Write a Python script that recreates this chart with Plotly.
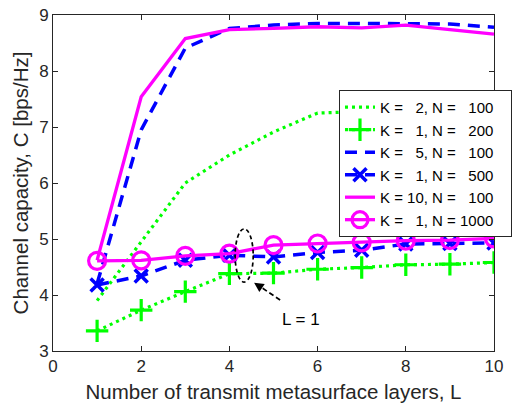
import plotly.graph_objects as go

L = [1, 2, 3, 4, 5, 6, 7, 8, 9, 10]

c_k2_n100 = [3.90, 4.95, 6.00, 6.50, 6.91, 7.25, 7.28, 7.30, 7.30, 7.30]
c_k1_n200 = [3.36, 3.73, 4.06, 4.38, 4.39, 4.46, 4.49, 4.54, 4.55, 4.58]
c_k5_n100 = [4.20, 6.95, 8.41, 8.76, 8.82, 8.85, 8.85, 8.85, 8.84, 8.78]
c_k1_n500 = [4.18, 4.34, 4.62, 4.71, 4.68, 4.76, 4.80, 4.91, 4.92, 4.93]
c_k10_n100 = [4.62, 7.54, 8.58, 8.74, 8.76, 8.79, 8.77, 8.82, 8.74, 8.66]
c_k1_n1000 = [4.61, 4.62, 4.70, 4.74, 4.89, 4.92, 4.94, 4.97, 4.98, 5.01]

S = "\u00a0\u00a0"
T = "\u00a0\u00a0\u00a0"
names = [
    f"K = {S}2, N = {S}100{T}",
    f"K = {S}1, N = {S}200{T}",
    f"K = {S}5, N = {S}100{T}",
    f"K = {S}1, N = {S}500{T}",
    f"K = 10, N = {S}100{T}",
    f"K = {S}1, N = 1000{T}",
]

GREEN = "#00FF00"
BLUE = "#0000FF"
MAG = "#FF00FF"

fig = go.Figure()
fig.add_trace(go.Scatter(x=L, y=c_k2_n100, mode="lines", name=names[0], legendgroup="a",
                         line=dict(color=GREEN, width=3.2, dash="3px,4px")))
fig.add_trace(go.Scatter(x=L, y=c_k1_n200, mode="lines+markers", name=names[1], legendgroup="b",
                         line=dict(color=GREEN, width=3.2, dash="3px,4px"),
                         marker=dict(symbol="cross-thin", size=16, color=GREEN,
                                     line=dict(color=GREEN, width=3.2))))
fig.add_trace(go.Scatter(x=L, y=c_k5_n100, mode="lines", name=names[2], legendgroup="c",
                         line=dict(color=BLUE, width=3.5, dash="12px,8px")))
fig.add_trace(go.Scatter(x=L, y=c_k1_n500, mode="lines+markers", name=names[3], legendgroup="d",
                         line=dict(color=BLUE, width=3.5, dash="12px,8px"),
                         marker=dict(symbol="x-thin", size=13, color=BLUE,
                                     line=dict(color=BLUE, width=3.5))))
fig.add_trace(go.Scatter(x=L, y=c_k10_n100, mode="lines", name=names[4], legendgroup="e",
                         line=dict(color=MAG, width=3.3)))
fig.add_trace(go.Scatter(x=L, y=c_k1_n1000, mode="lines+markers", name=names[5], legendgroup="f",
                         line=dict(color=MAG, width=3.3),
                         marker=dict(symbol="circle-open", size=17, color=MAG,
                                     line=dict(color=MAG, width=3.2))))

# annotation: dashed ellipse + dashed arrow + label
ell_x = (4.13, 4.54)
ell_y = (4.23, 5.18)
arrow_tail = (5.15, 3.91)
arrow_head = (4.56, 4.22)
label_pos = (5.62, 3.57)

fig.add_shape(type="circle", xref="x", yref="y", x0=ell_x[0], x1=ell_x[1], y0=ell_y[0], y1=ell_y[1],
              line=dict(color="black", width=1.7, dash="4px,3px"))
fig.add_shape(type="line", xref="x", yref="y", x0=arrow_tail[0], y0=arrow_tail[1],
              x1=arrow_head[0] + 0.1, y1=arrow_head[1] - 0.05,
              line=dict(color="black", width=1.7, dash="5px,3px"))
fig.add_annotation(x=arrow_head[0], y=arrow_head[1], ax=arrow_head[0] + 0.15, ay=arrow_head[1] - 0.08,
                   xref="x", yref="y", axref="x", ayref="y", text="", showarrow=True,
                   arrowhead=2, arrowsize=1.2, arrowwidth=1.6, arrowcolor="black")
fig.add_annotation(x=label_pos[0], y=label_pos[1], xref="x", yref="y", text="L = 1",
                   showarrow=False, font=dict(size=17, color="black"))

axis_common = dict(showline=True, linecolor="#262626", linewidth=1, mirror="ticks",
                   ticks="inside", ticklen=5, tickcolor="#262626", showgrid=False, zeroline=False,
                   tickfont=dict(size=17, color="#262626"))
fig.update_xaxes(range=[0, 10], dtick=2, tick0=0,
                 title=dict(text="Number of transmit metasurface layers, L",
                            font=dict(size=20.5, color="#262626"), standoff=9),
                 **axis_common)
fig.update_yaxes(range=[3, 9], dtick=1, tick0=3,
                 title=dict(text="Channel capacity, C [bps/Hz]",
                            font=dict(size=20.5, color="#262626"), standoff=4),
                 **axis_common)

fig.update_layout(
    width=516, height=409,
    margin=dict(l=53, r=22, t=15, b=58, autoexpand=False),
    paper_bgcolor="white", plot_bgcolor="white",
    font=dict(family="Liberation Sans, Arial, sans-serif", color="#262626"),
    legend=dict(x=0.6485, y=0.777, xanchor="left", yanchor="top",
                bgcolor="white", bordercolor="#262626", borderwidth=1,
                font=dict(size=15, color="black"), tracegroupgap=0,
                itemwidth=30),
    showlegend=True,
)

fig.write_html("out.html")
